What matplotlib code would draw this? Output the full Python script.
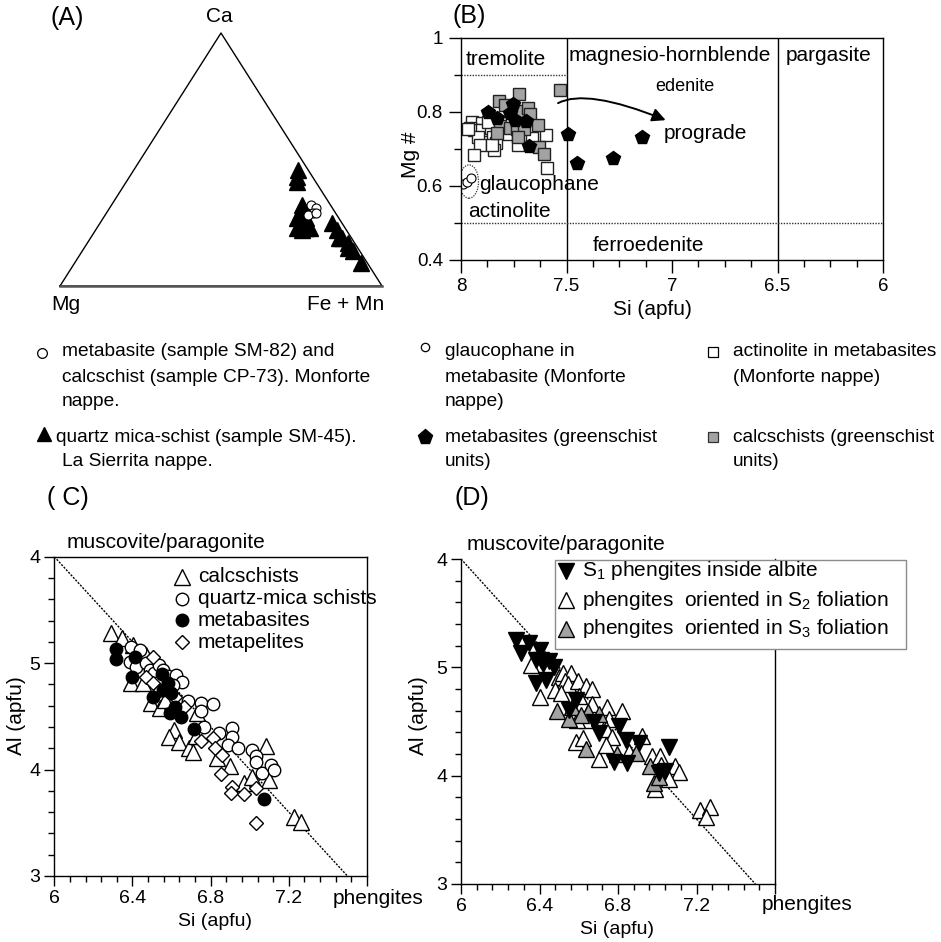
import matplotlib
matplotlib.use("Agg")
import matplotlib.pyplot as plt
from matplotlib.lines import Line2D
from matplotlib.patches import Ellipse, Rectangle
from matplotlib.ticker import MultipleLocator, FixedLocator, FixedFormatter
from matplotlib import font_manager

plt.rcParams['font.family'] = ['Liberation Sans', 'DejaVu Sans']
plt.rcParams['mathtext.fontset'] = 'custom'
plt.rcParams['mathtext.rm'] = 'Liberation Sans'
plt.rcParams['mathtext.default'] = 'regular'

# ---------------- DATA ----------------
# Panel A: ternary Ca - Mg - (Fe+Mn) fractions
tri_ca = [0.46, 0.43, 0.41, 0.32, 0.29, 0.27, 0.26, 0.23, 0.23, 0.23, 0.22, 0.30, 0.27,
          0.25, 0.22, 0.19, 0.19, 0.17, 0.15, 0.14, 0.09]
tri_fe = [0.51, 0.52, 0.53, 0.59, 0.60, 0.60, 0.62, 0.62, 0.65, 0.66, 0.64, 0.60, 0.63,
          0.72, 0.75, 0.77, 0.78, 0.81, 0.82, 0.84, 0.89]
circ_ca = [0.32, 0.31, 0.29, 0.28, 0.29]
circ_fe = [0.62, 0.64, 0.64, 0.63, 0.65]

# Panel B: Si (apfu) vs Mg#
act_si = [7.949, 7.902, 7.957, 7.937, 7.902, 7.858, 7.918, 7.847, 7.787, 7.910, 7.836,
          7.842, 7.728, 7.665, 7.597, 7.937, 7.594, 7.968, 7.870, 7.852]
act_mg = [0.774, 0.769, 0.756, 0.752, 0.752, 0.757, 0.733, 0.733, 0.740, 0.711, 0.717,
          0.697, 0.711, 0.731, 0.738, 0.684, 0.648, 0.755, 0.774, 0.711]
calc_gs_si = [7.724, 7.818, 7.790, 7.722, 7.682, 7.674, 7.815, 7.768, 7.736, 7.701, 7.633,
              7.828, 7.731, 7.628, 7.609, 7.531]
calc_gs_mg = [0.848, 0.830, 0.819, 0.803, 0.812, 0.794, 0.763, 0.758, 0.754, 0.754, 0.765,
              0.742, 0.733, 0.706, 0.686, 0.859]
meta_gs_si = [7.872, 7.828, 7.752, 7.770, 7.744, 7.693, 7.678, 7.491, 7.449, 7.281, 7.144]
meta_gs_mg = [0.801, 0.785, 0.821, 0.796, 0.778, 0.776, 0.709, 0.740, 0.661, 0.676, 0.733]
glauc_si = [7.992, 7.970, 7.954]
glauc_mg = [0.605, 0.612, 0.621]

# Panel C: Si vs Al
calc_c_si = [6.289, 6.347, 6.402, 6.470, 6.394, 6.454, 6.496, 6.543, 6.564, 6.614, 6.589,
             6.640, 6.690, 6.708, 6.730, 6.725, 6.830, 6.900, 6.970, 7.010, 7.081, 7.098,
             7.225, 7.260]
calc_c_al = [5.281, 5.234, 5.171, 5.078, 4.811, 4.811, 4.623, 4.576, 4.655, 4.372, 4.310,
             4.263, 4.200, 4.169, 4.530, 4.320, 4.110, 4.030, 3.872, 3.930, 4.225, 3.900,
             3.557, 3.510]
qms_c_si = [6.394, 6.437, 6.385, 6.419, 6.470, 6.488, 6.512, 6.537, 6.554, 6.580, 6.623,
            6.654, 6.606, 6.520, 6.683, 6.750, 6.810, 6.750, 6.766, 6.843, 6.910, 6.910,
            6.890, 6.940, 7.010, 7.030, 7.030, 7.064, 7.107, 7.124]
qms_c_al = [5.156, 5.125, 5.015, 4.968, 5.000, 4.937, 4.906, 4.984, 4.937, 4.875, 4.890,
            4.827, 4.796, 4.810, 4.640, 4.630, 4.620, 4.550, 4.400, 4.340, 4.387, 4.310,
            4.230, 4.200, 4.180, 4.130, 4.070, 3.970, 4.040, 4.000]
meta_c_si = [6.318, 6.318, 6.411, 6.399, 6.552, 6.580, 6.597, 6.555, 6.504, 6.619, 6.592,
             6.648, 6.716, 7.073]
meta_c_al = [5.131, 5.037, 5.060, 4.866, 4.900, 4.810, 4.717, 4.750, 4.679, 4.585, 4.528,
             4.497, 4.379, 3.720]
pel_c_si = [6.507, 6.470, 6.505, 6.666, 6.750, 6.810, 6.820, 6.860, 6.852, 6.910, 6.903,
            6.970, 7.030, 7.030, 6.540, 6.620]
pel_c_al = [5.060, 4.870, 4.810, 4.592, 4.270, 4.300, 4.200, 4.140, 3.960, 3.840, 3.780,
            3.770, 3.830, 3.500, 4.750, 4.680]

# Panel D
s1_si = [6.282, 6.349, 6.307, 6.400, 6.408, 6.450, 6.476, 6.383, 6.434, 6.585, 6.552,
         6.678, 6.805, 6.704, 6.839, 6.906, 6.780, 6.848, 7.058, 7.007, 7.040, 6.380, 6.420]
s1_al = [5.253, 5.222, 5.130, 5.160, 5.069, 5.054, 5.000, 4.854, 4.885, 4.701, 4.609,
         4.500, 4.455, 4.390, 4.330, 4.300, 4.130, 4.115, 4.268, 4.022, 4.040, 5.070, 5.030]
s2_si = [6.358, 6.400, 6.501, 6.520, 6.560, 6.530, 6.545, 6.480, 6.510, 6.594, 6.636,
         6.670, 6.600, 6.670, 6.746, 6.822, 6.754, 6.636, 6.590, 6.737, 6.771, 6.923,
         6.585, 6.620, 6.704, 6.737, 6.855, 6.973, 7.016, 7.020, 7.090, 7.110, 7.058,
         6.990, 7.218, 7.269, 7.250]
s2_al = [5.020, 4.730, 4.910, 4.950, 4.950, 4.870, 4.850, 4.790, 4.760, 4.877, 4.830,
         4.800, 4.740, 4.660, 4.630, 4.600, 4.520, 4.510, 4.510, 4.430, 4.357, 4.370,
         4.310, 4.350, 4.150, 4.280, 4.220, 4.180, 4.180, 4.100, 4.090, 4.030, 3.970,
         3.880, 3.680, 3.710, 3.620]
s3_si = [6.491, 6.568, 6.645, 6.610, 6.704, 6.636, 6.796, 6.890, 6.965, 6.982, 7.010, 6.550]
s3_al = [4.600, 4.630, 4.585, 4.560, 4.570, 4.246, 4.200, 4.210, 4.090, 3.930, 3.990, 4.520]

# reference line (muscovite/paragonite -> phengite)
ref_si = [6.0, 7.5]
ref_al = [6.0, 3.0]

cd_yticks = [3, 4, 5, 6]
cd_yticklabels = ['3', '4', '5', '4']
cd_xticks = [6.0, 6.4, 6.8, 7.2, 7.6]
cd_xticklabels = ['6', '6.4', '6.8', '7.2', '']
b_xticks = [8, 7.5, 7, 6.5, 6]
b_xticklabels = ['8', '7.5', '7', '6.5', '6']
b_yticks = [0.4, 0.6, 0.8, 1.0]
b_yticklabels = ['0.4', '0.6', '0.8', '1']

GRAY = '#a3a3a3'

# ---------------- FIGURE ----------------
W, H = 941, 942
fig = plt.figure(figsize=(W / 100, H / 100), dpi=100)


def fx(px):
    return px / W


def fy(py):
    return 1 - py / H


def add_ax(l, t, r, b):
    return fig.add_axes([l / W, 1 - b / H, (r - l) / W, (b - t) / H])


def ftext(px, py, s, **kw):
    kw.setdefault('fontsize', 15)
    kw.setdefault('va', 'center')
    return fig.text(fx(px), fy(py), s, **kw)


def fmark(px, py, **kw):
    fig.add_artist(Line2D([fx(px)], [fy(py)], transform=fig.transFigure, linestyle='none', **kw))


# ---------- Panel A ----------
axA = add_ax(60, 33, 382, 286)
axA.set_xlim(0, 1)
axA.set_ylim(0, 1)
axA.axis('off')
axA.plot([0, 1, 0.5, 0], [0, 0, 1, 0], color='black', lw=1, clip_on=False)
axA.plot([0, 1], [0, 0], color='#555555', lw=1.8, clip_on=False)
tx = [f + 0.5 * c for f, c in zip(tri_fe, tri_ca)]
axA.plot(tx, tri_ca, linestyle='none', marker='^', ms=11, mfc='black', mec='black', clip_on=False)
cx = [f + 0.5 * c for f, c in zip(circ_fe, circ_ca)]
axA.plot(cx, circ_ca, linestyle='none', marker='o', ms=6.5, mfc='white', mec='black', mew=0.8,
         clip_on=False)
ftext(67, 18, '(A)', fontsize=18, ha='center')
ftext(219, 17, 'Ca', fontsize=15, ha='center')
ftext(66, 305, 'Mg', fontsize=15, ha='center')
ftext(346, 305, 'Fe + Mn', fontsize=15, ha='center')

# ---------- Panel B ----------
axB = add_ax(461, 38, 883, 260)
axB.set_xlim(8, 6)
axB.set_ylim(0.4, 1.0)
axB.axvline(7.5, color='black', lw=1)
axB.axvline(6.5, color='black', lw=1)
axB.plot([8, 7.5], [0.9, 0.9], color='#333333', lw=1, linestyle=(0, (1, 1)))
axB.plot([8, 6], [0.5, 0.5], color='#333333', lw=1, linestyle=(0, (1, 1)))
axB.plot(act_si, act_mg, linestyle='none', marker='s', ms=8.5, mfc='white', mec='#222222', mew=1)
axB.plot(calc_gs_si, calc_gs_mg, linestyle='none', marker='s', ms=8.5, mfc=GRAY, mec='#222222', mew=1)
axB.plot(meta_gs_si, meta_gs_mg, linestyle='none', marker='p', ms=10.5, mfc='black', mec='black')
axB.plot(glauc_si, glauc_mg, linestyle='none', marker='o', ms=6.5, mfc='white', mec='black', mew=0.8)
axB.add_patch(Ellipse((7.962, 0.612), 0.09, 0.09, angle=0, fill=False, lw=0.9,
                      linestyle=(0, (1, 1)), edgecolor='#333333'))
axB.text(7.79, 0.943, 'tremolite', fontsize=15, ha='center', va='center')
axB.text(7.01, 0.954, 'magnesio-hornblende', fontsize=15, ha='center', va='center')
axB.text(6.26, 0.954, 'pargasite', fontsize=15, ha='center', va='center')
axB.text(6.94, 0.870, 'edenite', fontsize=13, ha='center', va='center')
axB.text(6.84, 0.743, 'prograde', fontsize=15, ha='center', va='center')
axB.text(7.915, 0.605, 'glaucophane', fontsize=15, ha='left', va='center')
axB.text(7.77, 0.530, 'actinolite', fontsize=15, ha='center', va='center')
axB.text(7.11, 0.440, 'ferroedenite', fontsize=15, ha='center', va='center')
axB.annotate('', xy=(7.03, 0.778), xytext=(7.54, 0.824),
             arrowprops=dict(arrowstyle='-|>', color='black', lw=1.4, mutation_scale=20,
                             shrinkA=0, shrinkB=0,
                             connectionstyle='angle3,angleA=28,angleB=-22'))
axB.xaxis.set_major_locator(FixedLocator(b_xticks))
axB.xaxis.set_major_formatter(FixedFormatter(b_xticklabels))
axB.xaxis.set_minor_locator(MultipleLocator(0.125))
axB.yaxis.set_major_locator(FixedLocator(b_yticks))
axB.yaxis.set_major_formatter(FixedFormatter(b_yticklabels))
axB.yaxis.set_minor_locator(MultipleLocator(0.1))
axB.tick_params(which='major', direction='out', length=9, width=1, labelsize=13.5, pad=4)
axB.tick_params(which='minor', direction='out', length=5, width=1)
for s in axB.spines.values():
    s.set_linewidth(1)
ftext(469, 16, '(B)', fontsize=18, ha='center')
ftext(410, 155, 'Mg #', fontsize=15, ha='center', rotation=90)
ftext(652, 310, 'Si (apfu)', fontsize=15, ha='center')

# ---------- Bottom legend ----------
names = {f.name for f in font_manager.fontManager.ttflist}
if 'Liberation Sans Narrow' in names:
    LF, LS = ['Liberation Sans Narrow', 'DejaVu Sans'], 16
else:
    LF, LS = ['Liberation Sans', 'DejaVu Sans'], 13.8

fmark(42, 353, marker='o', ms=7, mfc='white', mec='black', mew=0.9)
for i, s in enumerate(['metabasite (sample SM-82) and', 'calcschist (sample CP-73). Monforte', 'nappe.']):
    ftext(62, 352 + 25 * i, s, family=LF, fontsize=LS)
fmark(425, 347, marker='o', ms=6, mfc='white', mec='black', mew=0.9)
for i, s in enumerate(['glaucophane in', 'metabasite (Monforte', 'nappe)']):
    ftext(445, 352 + 25 * i, s, family=LF, fontsize=LS)
fmark(713, 352, marker='s', ms=7, mfc='white', mec='black', mew=0.9)
for i, s in enumerate(['actinolite in metabasites', '(Monforte nappe)']):
    ftext(733, 352 + 25 * i, s, family=LF, fontsize=LS)
fmark(44, 434, marker='^', ms=10, mfc='black', mec='black')
ftext(56, 437, 'quartz mica-schist (sample SM-45).', family=LF, fontsize=LS)
ftext(62, 461, 'La Sierrita nappe.', family=LF, fontsize=LS)
fmark(425, 437, marker='p', ms=11, mfc='black', mec='black')
ftext(445, 437, 'metabasites (greenschist', family=LF, fontsize=LS)
ftext(445, 461, 'units)', family=LF, fontsize=LS)
fmark(713, 437, marker='s', ms=7, mfc=GRAY, mec='#333333', mew=0.9)
ftext(733, 437, 'calcschists (greenschist', family=LF, fontsize=LS)
ftext(733, 461, 'units)', family=LF, fontsize=LS)


# ---------- Panels C & D common ----------
def style_cd(ax):
    ax.set_xlim(6, 7.6)
    ax.set_ylim(3, 6)
    ax.plot(ref_si, ref_al, color='black', lw=1, linestyle=(0, (1.5, 1)), zorder=1)
    ax.xaxis.set_major_locator(FixedLocator(cd_xticks))
    ax.xaxis.set_major_formatter(FixedFormatter(cd_xticklabels))
    ax.xaxis.set_minor_locator(MultipleLocator(0.08))
    ax.yaxis.set_major_locator(FixedLocator(cd_yticks))
    ax.yaxis.set_major_formatter(FixedFormatter(cd_yticklabels))
    ax.yaxis.set_minor_locator(MultipleLocator(0.2))
    ax.tick_params(which='major', direction='out', length=7, width=1, labelsize=14, pad=3)
    ax.tick_params(which='minor', direction='out', length=4, width=1)
    for s in ax.spines.values():
        s.set_linewidth(1)


axC = add_ax(54.3, 556.7, 367, 876)
style_cd(axC)
axC.plot(calc_c_si, calc_c_al, linestyle='none', marker='^', ms=11, mfc='white', mec='black', mew=1)
axC.plot(qms_c_si, qms_c_al, linestyle='none', marker='o', ms=9, mfc='white', mec='black', mew=1)
axC.plot(pel_c_si, pel_c_al, linestyle='none', marker='D', ms=7.5, mfc='white', mec='black', mew=1)
axC.plot(meta_c_si, meta_c_al, linestyle='none', marker='o', ms=9, mfc='black', mec='black')
ftext(68, 498, '( C)', fontsize=18, ha='center')
ftext(67, 542, 'muscovite/paragonite', fontsize=15, ha='left')
ftext(333, 898, 'phengites', fontsize=15, ha='left')
ftext(215, 922, 'Si (apfu)', fontsize=14, ha='center')
ftext(17, 716, 'Al (apfu)', fontsize=15, ha='center', rotation=90)
for i, (m, fc, ms, lab) in enumerate([('^', 'white', 11, 'calcschists'),
                                      ('o', 'white', 9, 'quartz-mica schists'),
                                      ('o', 'black', 9, 'metabasites'),
                                      ('D', 'white', 7.5, 'metapelites')]):
    py = 577 + 21.7 * i
    fmark(182, py, marker=m, ms=ms, mfc=fc, mec='black', mew=1)
    ftext(198, py, lab, fontsize=15, ha='left')

axD = add_ax(461, 559, 775, 884)
style_cd(axD)
axD.spines['top'].set_visible(False)
axD.plot(s2_si, s2_al, linestyle='none', marker='^', ms=12, mfc='white', mec='black', mew=1)
axD.plot(s3_si, s3_al, linestyle='none', marker='^', ms=12, mfc=GRAY, mec='black', mew=1)
axD.plot(s1_si, s1_al, linestyle='none', marker='v', ms=12, mfc='black', mec='black', mew=1)
ftext(472, 498, '(D)', fontsize=18, ha='center')
ftext(467, 545, 'muscovite/paragonite', fontsize=15, ha='left')
ftext(762, 905, 'phengites', fontsize=15, ha='left')
ftext(617, 930, 'Si (apfu)', fontsize=14, ha='center')
ftext(419, 716, 'Al (apfu)', fontsize=15, ha='center', rotation=90)
fig.add_artist(Rectangle((fx(555), fy(649)), (906 - 555) / W, (649 - 560) / H,
                         transform=fig.transFigure, facecolor='white', edgecolor='#8c8c8c', lw=1))
for i, (m, fc, lab) in enumerate([('v', 'black', 'S$_1$ phengites inside albite'),
                                  ('^', 'white', 'phengites  oriented in S$_2$ foliation'),
                                  ('^', GRAY, 'phengites  oriented in S$_3$ foliation')]):
    py = 571 + 29 * i
    fmark(566, py, marker=m, ms=12, mfc=fc, mec='black', mew=1)
    ftext(582, py, lab, fontsize=15, ha='left')

fig.savefig('out.png', dpi=100)
